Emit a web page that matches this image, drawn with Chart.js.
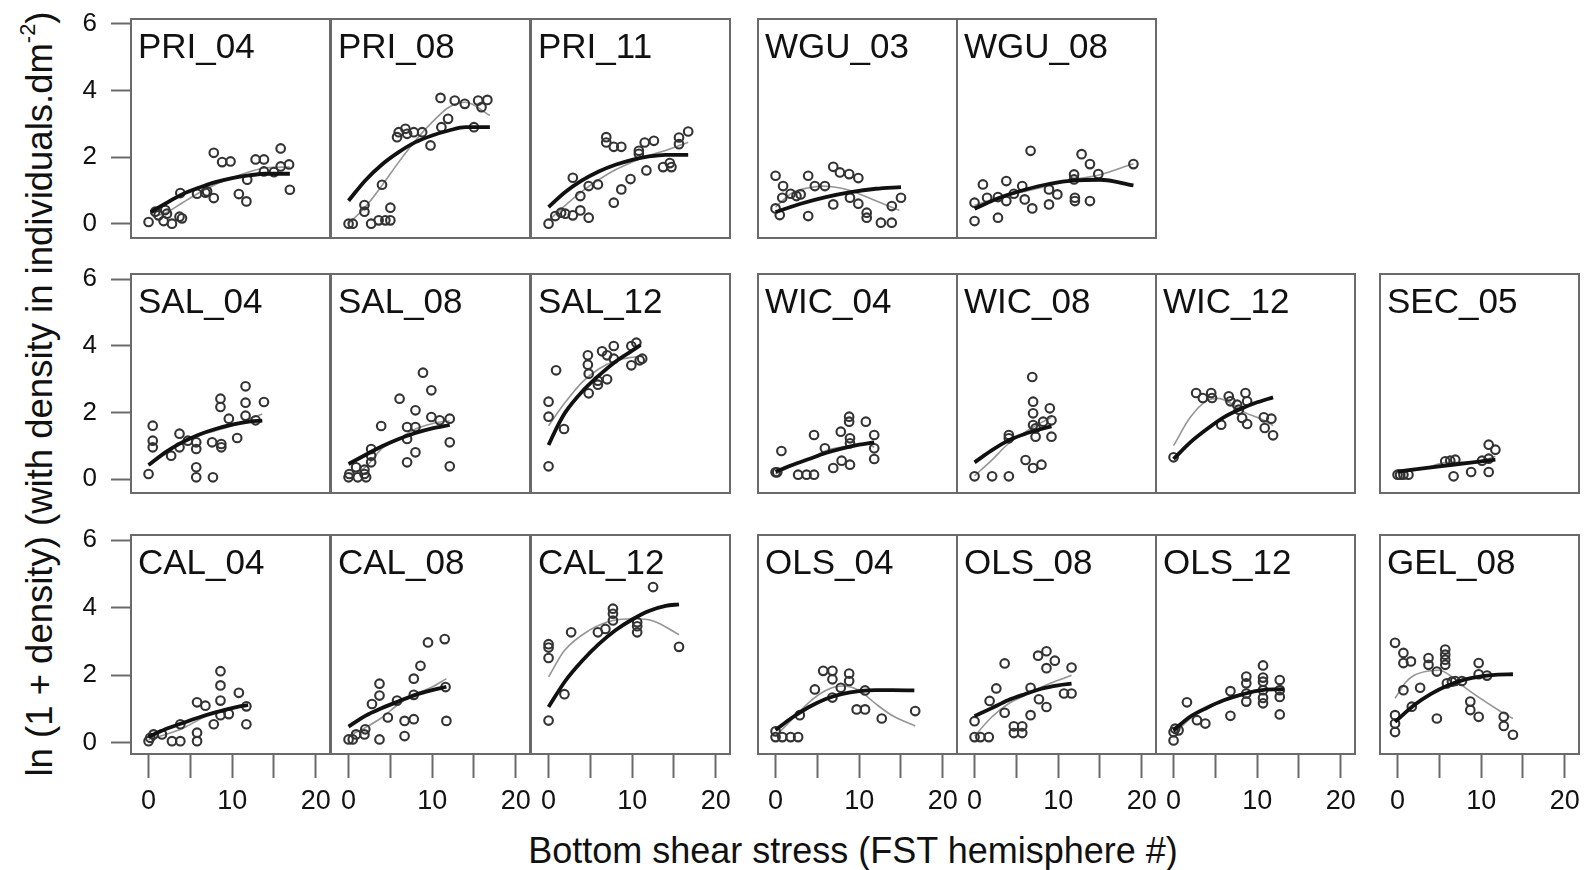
<!DOCTYPE html>
<html><head><meta charset="utf-8">
<script src="https://cdn.jsdelivr.net/npm/chart.js@4.4.1/dist/chart.umd.min.js"></script>
<style>
html,body{margin:0;padding:0;background:#fff;width:1592px;height:870px;overflow:hidden;}
#wrap{position:relative;width:1592px;height:870px;background:#fff;}
canvas{position:absolute;}
.ttl{position:absolute;font-family:"Liberation Sans",Arial,sans-serif;color:#111;white-space:nowrap;line-height:1;}
.ttl sup{font-size:0.6em;line-height:0;vertical-align:0.75em;}
#ytitle{left:40px;top:394px;font-size:36.5px;transform:translate(-50%,-50%) rotate(-90deg);}
#xtitle{left:853px;top:851px;font-size:36px;transform:translate(-50%,-50%);}
</style></head><body><div id="wrap">
<div class="ttl" id="ytitle">ln (1 + density) (with density in individuals.dm<sup>-2</sup>)</div>
<div class="ttl" id="xtitle">Bottom shear stress (FST hemisphere #)</div>
</div>
<script>
// ---------- tick labels ----------
const yTicks = [0, 2, 4, 6];
const xTicks = [0, 5, 10, 15, 20];
const xTickLabels = ['0', '', '10', '', '20'];

// ---------- data: points [x,y], quadratic fit (thick), loess (thin grey) ----------
const PRI_04_pts = [[0,0.05],[0.8,0.36],[1.2,0.25],[2.0,0.41],[1.8,0.08],[2.2,0.3],[2.8,0],[3.7,0.21],[4.0,0.16],[3.8,0.92],[5.8,0.9],[6.8,0.93],[7.0,0.97],[7.8,0.77],[7.8,2.13],[8.8,1.85],[9.8,1.87],[10.8,0.89],[11.7,0.67],[11.8,1.32],[12.8,1.93],[13.8,1.93],[13.8,1.57],[15.0,1.55],[15.8,2.26],[15.8,1.72],[16.8,1.78],[16.9,1.02]];
const PRI_04_quad = [[0.3,0.35],[2,0.6],[4,0.88],[6,1.08],[8,1.25],[10,1.37],[12,1.45],[14,1.5],[16.9,1.5]];
const PRI_04_loess = [[0.5,0.2],[2,0.32],[4,0.62],[6,0.92],[8,1.18],[10,1.38],[12,1.55],[14,1.68],[16.9,1.7]];

const PRI_08_pts = [[0,0],[0.5,0],[1.9,0.56],[1.9,0.36],[2.7,0],[3.6,0.1],[4.4,0.1],[5.0,0.1],[5.0,0.48],[4.0,1.17],[5.8,2.6],[6.0,2.75],[6.8,2.85],[7.0,2.7],[7.8,2.75],[8.8,2.75],[9.8,2.35],[11.1,2.9],[11.9,3.15],[11.0,3.78],[12.7,3.7],[13.9,3.6],[15.0,2.9],[15.5,3.7],[15.9,3.5],[16.6,3.72]];
const PRI_08_quad = [[0,0.69],[2,1.3],[4,1.78],[6,2.15],[8,2.45],[10,2.65],[12,2.8],[14,2.9],[16.9,2.9]];
const PRI_08_loess = [[0,0],[2,0.5],[4,1.15],[6,1.85],[8,2.5],[10,3.05],[12,3.5],[14,3.65],[16.9,3.25]];

const PRI_11_pts = [[0,0],[0.8,0.23],[1.5,0.33],[2.0,0.3],[2.9,0.25],[3.8,0.4],[4.8,0.18],[2.9,1.38],[3.8,0.83],[4.8,1.13],[5.9,1.18],[7.8,0.63],[8.7,1.03],[9.8,1.34],[6.9,2.6],[6.9,2.44],[7.8,2.31],[8.7,2.31],[10.8,2.19],[10.8,2.1],[11.5,2.44],[12.6,2.49],[11.7,1.6],[13.7,1.7],[14.7,1.7],[14.5,1.82],[15.6,2.59],[15.6,2.39],[16.7,2.77]];
const PRI_11_quad = [[0,0.5],[2,0.95],[4,1.3],[6,1.57],[8,1.77],[10,1.92],[12,2.02],[14,2.07],[16.7,2.07]];
const PRI_11_loess = [[0,0.1],[2,0.55],[4,0.97],[6,1.32],[8,1.62],[10,1.85],[12,2.05],[14,2.2],[16.7,2.45]];

const WGU_03_pts = [[0,1.44],[0,0.46],[0.5,0.26],[0.9,1.13],[0.8,0.78],[1.8,0.9],[2.5,0.83],[3.0,0.88],[3.9,1.44],[4.7,1.13],[5.9,1.13],[3.9,0.23],[6.9,1.71],[7.7,1.54],[8.8,1.49],[9.9,1.37],[6.9,0.58],[8.9,0.78],[9.9,0.6],[10.9,0.33],[10.9,0.18],[12.6,0.03],[13.9,0.03],[13.9,0.53],[15.0,0.78]];
const WGU_03_quad = [[0,0.35],[3,0.6],[6,0.8],[9,0.95],[12,1.05],[15,1.1]];
const WGU_03_loess = [[0,0.5],[2,0.93],[4,1.08],[5.5,1.13],[7,1.1],[8.9,1.0],[11.4,0.75],[14.8,0.4]];

const WGU_08_pts = [[0,0.63],[0,0.08],[1.0,1.18],[1.5,0.78],[2.8,0.8],[2.8,0.18],[3.8,1.28],[3.8,0.68],[4.7,0.9],[5.7,1.13],[6.0,0.73],[6.7,2.19],[6.9,0.46],[8.9,0.58],[8.9,1.03],[9.9,0.88],[11.9,1.48],[11.9,1.33],[12.0,0.78],[12.0,0.68],[12.8,2.09],[13.8,1.79],[13.8,0.68],[14.8,1.49],[19.0,1.79]];
const WGU_08_quad = [[0,0.45],[3,0.78],[6,1.02],[9,1.2],[12,1.3],[15,1.32],[19,1.15]];
const WGU_08_loess = [[0,0.55],[3,0.8],[6,0.97],[9,1.15],[12,1.33],[15,1.47],[19,1.8]];

const SAL_04_pts = [[0,0.15],[0.5,1.6],[0.5,1.15],[0.5,0.95],[2.7,0.7],[3.7,1.36],[3.7,0.95],[4.7,1.15],[5.7,1.1],[5.7,0.9],[5.7,0.35],[5.7,0.05],[7.7,0.05],[7.6,1.1],[8.6,2.41],[8.6,2.16],[8.7,0.95],[8.7,1.05],[9.6,1.81],[10.6,1.23],[11.6,2.78],[11.6,2.29],[11.6,1.9],[12.8,1.76],[13.8,2.31]];
const SAL_04_quad = [[0,0.42],[2,0.8],[4,1.1],[6,1.33],[8,1.5],[10,1.63],[12,1.72],[13.6,1.75]];
const SAL_04_loess = [[0,0.4],[2,0.75],[4,1.08],[6,1.3],[8,1.45],[10,1.6],[12,1.8],[13.6,1.95]];

const SAL_08_pts = [[0,0.05],[0.1,0.15],[0.9,0.35],[1.1,0.05],[1.9,0.15],[2.1,0.05],[1.9,0.28],[2.7,0.9],[2.7,0.7],[2.7,0.5],[3.9,1.59],[6.1,2.41],[7.0,1.56],[8.0,1.56],[8.0,2.06],[7.0,1.2],[8.0,0.8],[7.0,0.5],[8.9,3.19],[9.9,2.66],[9.9,1.86],[10.9,1.76],[12.1,1.81],[12.1,1.1],[12.1,0.38]];
const SAL_08_quad = [[0,0.45],[2,0.72],[4,0.98],[6,1.2],[8,1.38],[10,1.52],[12.1,1.62]];
const SAL_08_loess = [[0,0.15],[2,0.35],[4,0.92],[6,1.2],[8,1.5],[10,1.66],[12.1,1.75]];

const SAL_12_pts = [[0,0.38],[0,2.32],[0,1.87],[0.9,3.26],[1.85,1.5],[4.7,3.71],[4.7,3.43],[4.8,3.16],[4.8,2.57],[5.9,2.83],[7.0,2.99],[5.9,2.95],[6.4,3.83],[7.0,3.71],[7.8,3.99],[7.8,3.61],[9.9,3.99],[10.5,4.09],[9.9,3.41],[10.9,3.56],[11.2,3.61]];
const SAL_12_quad = [[0,1.02],[1,1.55],[2,2.0],[4,2.62],[6,3.1],[8,3.52],[10,3.85],[11,4.02]];
const SAL_12_loess = [[0,1.6],[2,2.3],[4,2.9],[6,3.3],[8,3.55],[10,3.65],[11.2,3.7]];

const WIC_04_pts = [[0,0.2],[0.2,0.2],[0.7,0.84],[2.7,0.13],[3.7,0.13],[4.6,0.13],[4.6,1.32],[5.9,0.92],[6.9,0.33],[7.8,1.42],[7.9,0.55],[8.9,1.22],[8.9,1.07],[8.9,0.43],[8.8,1.87],[8.8,1.72],[10.8,1.72],[11.8,1.32],[11.8,0.92],[11.8,0.6]];
const WIC_04_quad = [[0,0.22],[2,0.42],[4,0.6],[6,0.78],[8,0.92],[10,1.03],[11.8,1.1]];
const WIC_04_loess = [[0,0.15],[2,0.4],[4,0.6],[6,0.85],[8,0.96],[10,1.03],[11,1.05],[11.8,0.95]];

const WIC_08_pts = [[0,0.08],[2.1,0.08],[4.1,0.08],[4.1,1.32],[4.1,1.22],[6.1,0.57],[7.0,0.33],[8.0,0.43],[6.9,3.06],[7.0,2.32],[7.0,1.97],[7.0,1.62],[7.3,1.52],[8.2,1.72],[9.0,2.12],[9.2,1.76],[7.3,1.27],[9.2,1.27]];
const WIC_08_quad = [[0,0.5],[2,0.85],[4,1.15],[6,1.35],[8,1.5],[9.2,1.58]];
const WIC_08_loess = [[0,0.1],[2,0.55],[4,1.05],[6,1.4],[8,1.7],[9.2,1.85]];

const WIC_12_pts = [[0,0.65],[2.7,2.58],[3.5,2.43],[4.5,2.58],[4.6,2.43],[5.7,1.63],[6.6,2.48],[6.8,2.33],[7.6,2.23],[7.8,2.08],[8.6,2.58],[8.8,2.33],[8.8,1.65],[8.2,1.83],[10.8,1.85],[11.7,1.81],[10.9,1.53],[11.9,1.31]];
const WIC_12_quad = [[0,0.6],[2,1.1],[4,1.5],[6,1.85],[8,2.1],[10,2.3],[11.9,2.45]];
const WIC_12_loess = [[0,1.0],[2,1.85],[4,2.35],[5.3,2.42],[7,2.25],[8.5,2.0],[10.5,1.8],[11.9,1.6]];

const SEC_05_pts = [[0,0.13],[0.3,0.13],[0.7,0.13],[1.3,0.13],[5.7,0.53],[6.3,0.55],[6.7,0.08],[6.9,0.58],[8.8,0.21],[10.1,0.55],[10.9,0.61],[10.9,0.21],[10.9,1.03],[11.7,0.88]];
const SEC_05_quad = [[0,0.22],[4,0.35],[8,0.47],[11.7,0.58]];
const SEC_05_loess = [[0,0.18],[3,0.3],[6,0.5],[8,0.5],[10,0.55],[11.7,0.68]];

const CAL_04_pts = [[0,0.05],[0.2,0.15],[0.6,0.25],[1.6,0.25],[2.8,0.05],[3.8,0.05],[3.8,0.55],[5.8,0.3],[5.8,0.05],[5.8,1.2],[6.8,1.1],[7.8,0.55],[8.6,2.12],[8.6,1.7],[8.6,1.25],[8.6,0.82],[9.6,0.85],[10.8,1.48],[11.7,1.08],[11.7,0.55]];
const CAL_04_quad = [[0,0.18],[2,0.4],[4,0.58],[6,0.75],[8,0.9],[10,1.03],[11.9,1.12]];
const CAL_04_loess = [[0,0.1],[2,0.25],[4,0.42],[6,0.68],[8,0.92],[10,1.05],[11.9,1.15]];

const CAL_08_pts = [[0,0.1],[0.5,0.1],[0.9,0.25],[1.9,0.25],[2.0,0.4],[3.7,0.1],[3.7,1.75],[3.7,1.4],[2.8,1.15],[4.7,0.75],[5.8,1.25],[6.7,0.2],[6.7,0.65],[7.8,0.7],[7.8,1.9],[7.8,1.42],[8.6,2.28],[9.5,2.97],[11.5,3.07],[11.6,1.65],[11.7,0.65]];
const CAL_08_quad = [[0,0.48],[2,0.8],[4,1.03],[6,1.23],[8,1.42],[10,1.56],[11.7,1.66]];
const CAL_08_loess = [[0,0.2],[2,0.45],[4,0.75],[6,1.15],[8,1.45],[10,1.65],[11.7,1.9]];

const CAL_12_pts = [[0,2.92],[0,2.82],[0,2.51],[0,0.66],[1.9,1.44],[2.7,3.27],[5.9,3.27],[6.8,3.37],[7.7,3.97],[7.7,3.82],[7.7,3.62],[10.6,3.57],[10.6,3.27],[10.6,3.45],[12.5,4.61],[15.6,2.84]];
const CAL_12_quad = [[0,1.06],[2,1.83],[4,2.42],[6,2.92],[8,3.33],[10,3.65],[12,3.9],[14,4.05],[15.6,4.1]];
const CAL_12_loess = [[0,1.95],[1.9,2.73],[4.8,3.32],[7.7,3.62],[10.2,3.67],[12.6,3.6],[15.6,3.2]];

const OLS_04_pts = [[0,0.34],[0,0.17],[0.8,0.17],[1.8,0.17],[2.7,0.17],[2.9,0.82],[4.7,1.58],[5.7,2.13],[6.8,2.13],[6.8,1.88],[6.8,1.34],[7.8,1.63],[8.8,2.05],[8.8,1.83],[9.7,0.99],[10.7,0.99],[10.7,1.55],[12.7,0.72],[16.7,0.94]];
const OLS_04_quad = [[0,0.38],[2,0.75],[4,1.06],[6,1.3],[8,1.45],[10,1.53],[12,1.56],[14,1.56],[16.6,1.55]];
const OLS_04_loess = [[0,0.2],[2,0.7],[4,1.2],[6,1.55],[8,1.68],[10,1.55],[12,1.15],[14,0.8],[16.7,0.5]];

const OLS_08_pts = [[0,0.64],[0,0.17],[0.7,0.17],[1.7,0.17],[1.8,1.24],[2.6,1.61],[3.6,2.35],[3.6,0.89],[4.7,0.49],[5.7,0.49],[4.7,0.29],[5.7,0.29],[6.7,1.63],[6.7,0.82],[7.7,1.29],[7.6,2.58],[8.6,2.71],[8.6,2.21],[9.6,2.43],[8.6,1.06],[10.7,1.46],[11.6,1.46],[11.6,2.23]];
const OLS_08_quad = [[0,0.79],[2,1.02],[4,1.26],[6,1.44],[8,1.6],[10,1.7],[11.6,1.75]];
const OLS_08_loess = [[0,0.2],[2,0.75],[4,1.15],[6,1.4],[8,1.65],[10,1.85],[11.6,2.0]];

const OLS_12_pts = [[0,0.07],[0,0.32],[0.2,0.42],[0.6,0.37],[1.6,1.2],[2.8,0.67],[3.8,0.57],[6.8,1.53],[6.8,0.8],[8.7,1.96],[8.7,1.76],[8.7,1.46],[8.7,1.22],[10.7,2.29],[10.7,1.93],[10.7,1.81],[10.7,1.56],[10.7,1.33],[10.7,1.17],[12.7,1.86],[12.7,1.56],[12.7,1.36],[12.7,0.84]];
const OLS_12_quad = [[0,0.37],[2,0.78],[4,1.04],[6,1.26],[8,1.42],[10,1.54],[12,1.58],[13.2,1.58]];
const OLS_12_loess = [[0,0.25],[2,0.72],[4,1.0],[6,1.25],[8,1.43],[10,1.56],[13.2,1.62]];

const GEL_08_pts = [[-0.3,2.96],[-0.3,0.82],[-0.3,0.57],[-0.3,0.32],[0.7,2.66],[0.7,2.36],[1.6,2.41],[0.7,1.56],[1.7,1.07],[2.7,1.63],[3.7,2.51],[3.7,2.31],[4.7,2.11],[4.7,0.72],[5.7,2.76],[5.7,2.61],[5.7,2.46],[5.7,2.31],[5.9,1.76],[6.5,1.81],[6.9,1.83],[7.7,1.83],[8.7,1.22],[8.7,0.97],[9.7,2.36],[9.7,2.03],[10.7,1.99],[9.7,0.77],[12.7,0.77],[12.7,0.5],[13.8,0.24]];
const GEL_08_quad = [[-0.3,0.62],[2,1.12],[4,1.45],[6,1.7],[8,1.87],[10,1.97],[12,2.02],[13.8,2.03]];
const GEL_08_loess = [[-0.3,1.32],[1,1.8],[2,2.0],[3.5,2.12],[5,2.15],[6.5,1.95],[8,1.65],[10,1.3],[12,0.98],[13.8,0.72]];

// ---------- panel grid (names by row) ----------
const rowPanels = [
  ['PRI_04','PRI_08','PRI_11','WGU_03','WGU_08',null,null],
  ['SAL_04','SAL_08','SAL_12','WIC_04','WIC_08','WIC_12','SEC_05'],
  ['CAL_04','CAL_08','CAL_12','OLS_04','OLS_08','OLS_12','GEL_08']
];

const series = {
  PRI_04:[PRI_04_pts,PRI_04_quad,PRI_04_loess], PRI_08:[PRI_08_pts,PRI_08_quad,PRI_08_loess],
  PRI_11:[PRI_11_pts,PRI_11_quad,PRI_11_loess], WGU_03:[WGU_03_pts,WGU_03_quad,WGU_03_loess],
  WGU_08:[WGU_08_pts,WGU_08_quad,WGU_08_loess], SAL_04:[SAL_04_pts,SAL_04_quad,SAL_04_loess],
  SAL_08:[SAL_08_pts,SAL_08_quad,SAL_08_loess], SAL_12:[SAL_12_pts,SAL_12_quad,SAL_12_loess],
  WIC_04:[WIC_04_pts,WIC_04_quad,WIC_04_loess], WIC_08:[WIC_08_pts,WIC_08_quad,WIC_08_loess],
  WIC_12:[WIC_12_pts,WIC_12_quad,WIC_12_loess], SEC_05:[SEC_05_pts,SEC_05_quad,SEC_05_loess],
  CAL_04:[CAL_04_pts,CAL_04_quad,CAL_04_loess], CAL_08:[CAL_08_pts,CAL_08_quad,CAL_08_loess],
  CAL_12:[CAL_12_pts,CAL_12_quad,CAL_12_loess], OLS_04:[OLS_04_pts,OLS_04_quad,OLS_04_loess],
  OLS_08:[OLS_08_pts,OLS_08_quad,OLS_08_loess], OLS_12:[OLS_12_pts,OLS_12_quad,OLS_12_loess],
  GEL_08:[GEL_08_pts,GEL_08_quad,GEL_08_loess]
};

// ---------- layout ----------
const colLeft = [131, 331, 531, 758, 957, 1156, 1380];
const colW = 199;
const rowTop = [19, 274, 535];
const rowH = 219;
const xMin = -2.1, xMax = 21.7;
const yMinRow = [-0.43, -0.42, -0.33], yMax = 6.15;
const FONT = '"Liberation Sans", Arial, sans-serif';

const panelPlugin = {
  id: 'panel',
  afterDraw(chart, args, opts) {
    const a = chart.chartArea, ctx = chart.ctx;
    ctx.save();
    ctx.strokeStyle = '#6a6a6a';
    ctx.lineWidth = 2;
    ctx.strokeRect(a.left, a.top, a.right - a.left, a.bottom - a.top);
    ctx.fillStyle = '#111';
    ctx.font = '35px ' + FONT;
    ctx.textBaseline = 'alphabetic';
    ctx.textAlign = 'left';
    ctx.fillText(opts.label, a.left + 7, a.top + 39);
    ctx.restore();
  }
};

const wrap = document.getElementById('wrap');
const toXY = arr => arr.map(([x, y]) => ({x, y}));

function buildPanel(name, row, col) {
  const hasY = col === 0, hasX = row === 2;
  const L = colLeft[col], T = rowTop[row], W = colW, H = rowH;
  const m = 40, yAxisW = 72, xAxisH = 72;
  const cLeft = hasY ? L - yAxisW : L - m;
  const cTop = T - m;
  const cW = (L + W + m) - cLeft;
  const cH = (T + H + (hasX ? xAxisH : m)) - cTop;
  const canvas = document.createElement('canvas');
  canvas.width = cW; canvas.height = cH;
  canvas.style.left = cLeft + 'px'; canvas.style.top = cTop + 'px';
  canvas.style.width = cW + 'px'; canvas.style.height = cH + 'px';
  wrap.appendChild(canvas);
  const [pts, quad, loess] = series[name];
  new Chart(canvas, {
    type: 'scatter',
    data: { datasets: [
      { data: toXY(quad), showLine: true, borderColor: '#111', borderWidth: 3.8, pointRadius: 0, cubicInterpolationMode: 'monotone', order: 0 },
      { data: toXY(pts), showLine: false, pointRadius: 4.3, pointStyle: 'circle', borderColor: '#333', backgroundColor: 'rgba(0,0,0,0)', borderWidth: 2.1, order: 1 },
      { data: toXY(loess), showLine: true, borderColor: '#959595', borderWidth: 1.6, pointRadius: 0, cubicInterpolationMode: 'monotone', order: 2 }
    ]},
    options: {
      responsive: false, animation: false, devicePixelRatio: 1,
      layout: { padding: { left: hasY ? 0 : m, right: m, top: m, bottom: hasX ? 0 : m } },
      plugins: { legend: { display: false }, tooltip: { enabled: false }, panel: { label: name } },
      scales: {
        x: {
          type: 'linear', min: xMin, max: xMax, display: hasX,
          afterBuildTicks: s => { s.ticks = xTicks.map(v => ({value: v})); },
          afterFit: s => { if (hasX) s.height = xAxisH; },
          grid: { drawOnChartArea: false, drawTicks: true, tickLength: 24, tickColor: '#6a6a6a', tickWidth: 2 },
          border: { display: false },
          ticks: { autoSkip: false, maxRotation: 0, padding: 7, color: '#111', font: { family: FONT, size: 27 },
                   callback: (v, i) => xTickLabels[i] }
        },
        y: {
          type: 'linear', min: yMinRow[row], max: yMax, display: hasY,
          afterBuildTicks: s => { s.ticks = yTicks.map(v => ({value: v})); },
          afterFit: s => { if (hasY) s.width = yAxisW; },
          grid: { drawOnChartArea: false, drawTicks: true, tickLength: 20, tickColor: '#6a6a6a', tickWidth: 2 },
          border: { display: false },
          ticks: { padding: 14, color: '#111', font: { family: FONT, size: 26 } }
        }
      }
    },
    plugins: [panelPlugin]
  });
}

rowPanels.forEach((names, r) => names.forEach((n, c) => { if (n) buildPanel(n, r, c); }));
</script>
</body></html>
